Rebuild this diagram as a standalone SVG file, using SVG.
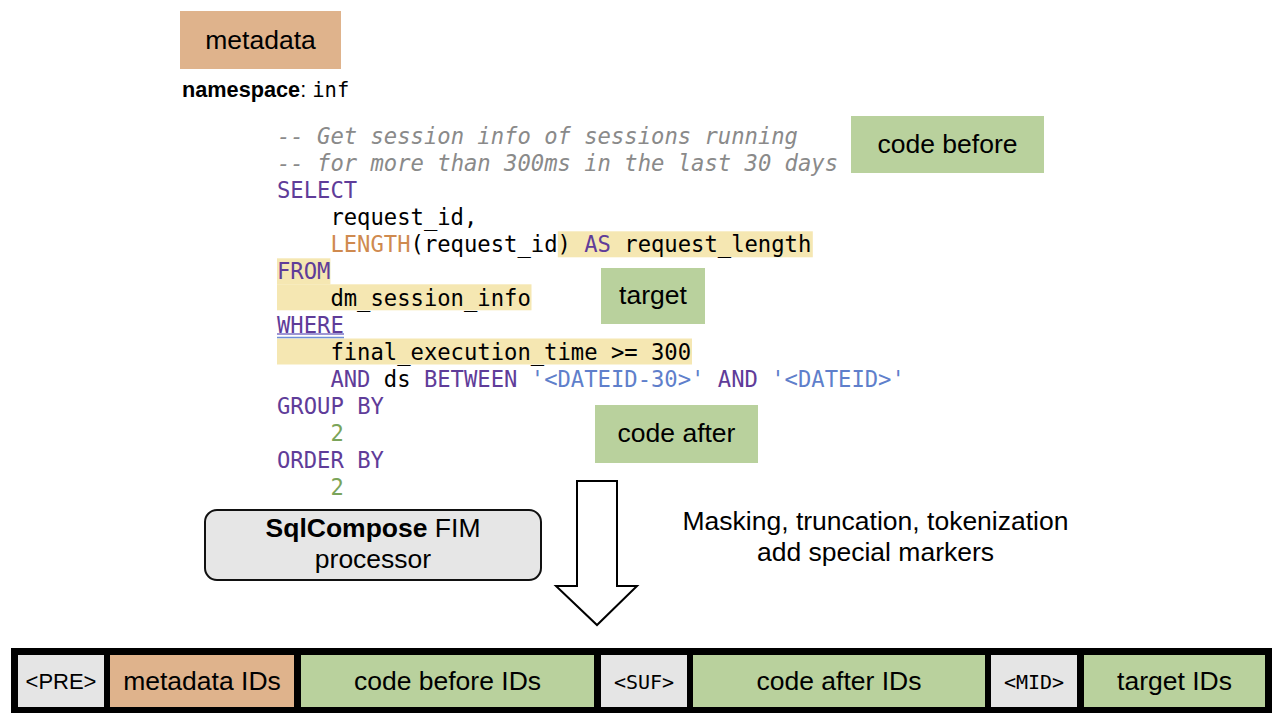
<svg xmlns="http://www.w3.org/2000/svg" width="1279" height="723" viewBox="0 0 1279 723">
<style>
.sans{font-family:"Liberation Sans",Arial,sans-serif;font-size:26.5px;fill:#000}
.lbl{text-anchor:middle}
.mono{font-family:"DejaVu Sans Mono","Liberation Mono",monospace;font-size:22.2px;fill:#000}
.cm{fill:#8a8a8a;font-style:italic}
.kw{fill:#5f3c99}
.fn{fill:#cf8a4f}
.st{fill:#5f7fcb}
.nu{fill:#7aa45a}
.hl{fill:#f5e7b2}
.green{fill:#b9d19d}
.tan{fill:#dfb38c}
.grey{fill:#e5e5e5}
</style>
<rect width="1279" height="723" fill="#fff"/>

<g id="metadata">
<rect class="tan" x="180" y="11" width="161" height="58"/>
<text class="sans lbl" x="260.5" y="49">metadata</text>
</g>

<g id="namespace">
<text x="182" y="97"><tspan font-family="Liberation Sans, Arial, sans-serif" font-weight="bold" font-size="21.7px">namespace</tspan><tspan font-family="Liberation Sans, Arial, sans-serif" font-size="21.7px">: </tspan><tspan font-family="DejaVu Sans Mono, Liberation Mono, monospace" font-size="20.5px">inf</tspan></text>
</g>

<g id="code">
<rect class="hl" x="557.8" y="231.3" width="255" height="26"/>
<rect class="hl" x="277" y="258.3" width="53.4" height="26.2"/>
<rect class="hl" x="277" y="284.3" width="254.5" height="26"/>
<rect class="hl" x="277" y="338.5" width="415" height="26"/>
<g xml:space="preserve">
<text class="mono cm" x="277" y="144">-- Get session info of sessions running</text>
<text class="mono cm" x="277" y="171">-- for more than 300ms in the last 30 days</text>
<text class="mono kw" x="277" y="198">SELECT</text>
<text class="mono" x="330.4" y="225">request_id,</text>
<text class="mono" x="330.4" y="252"><tspan class="fn">LENGTH</tspan>(request_id) <tspan class="kw">AS</tspan> request_length</text>
<text class="mono kw" x="277" y="279">FROM</text>
<text class="mono" x="330.4" y="306">dm_session_info</text>
<text class="mono kw" x="277" y="333">WHERE</text>
<text class="mono" x="330.4" y="360">final_execution_time &gt;= 300</text>
<text class="mono" x="330.4" y="387"><tspan class="kw">AND</tspan> ds <tspan class="kw">BETWEEN</tspan> <tspan class="st">'&lt;DATEID-30&gt;'</tspan> <tspan class="kw">AND</tspan> <tspan class="st">'&lt;DATEID&gt;'</tspan></text>
<text class="mono kw" x="277" y="414">GROUP BY</text>
<text class="mono nu" x="330.4" y="441">2</text>
<text class="mono kw" x="277" y="468">ORDER BY</text>
<text class="mono nu" x="330.4" y="495">2</text>
</g>
<line x1="277" y1="334" x2="344" y2="334" stroke="#7d72c4" stroke-width="1.4"/>
<line x1="277" y1="337.5" x2="344" y2="337.5" stroke="#6f8ed8" stroke-width="1.4"/>
</g>

<g id="code-before">
<rect class="green" x="851" y="116" width="193" height="57"/>
<text class="sans lbl" x="947.5" y="153">code before</text>
</g>

<g id="target">
<rect class="green" x="601" y="268" width="104" height="56"/>
<text class="sans lbl" x="653" y="304">target</text>
</g>

<g id="code-after">
<rect class="green" x="595" y="405" width="163" height="58"/>
<text class="sans lbl" x="676.5" y="442">code after</text>
</g>

<g id="processor">
<rect x="205" y="510" width="336" height="70" rx="12" ry="12" fill="#e6e6e6" stroke="#111" stroke-width="2"/>
<text class="sans lbl" x="373" y="537"><tspan font-weight="bold">SqlCompose</tspan> FIM</text>
<text class="sans lbl" x="373" y="568">processor</text>
</g>

<g id="steps">
<text class="sans lbl" x="875.5" y="530">Masking, truncation, tokenization</text>
<text class="sans lbl" x="875.5" y="561">add special markers</text>
</g>

<g id="connectors">
<path d="M577,481 H617 V586 H637 L597,625 L556,586 H577 Z" fill="#fff" stroke="#000" stroke-width="2" stroke-linejoin="miter"/>
</g>

<g id="sequence">
<rect x="11" y="648" width="1261" height="65" fill="#000"/>
<g id="seq-pre">
<rect class="grey" x="18" y="655" width="86" height="52"/>
<text class="sans lbl" x="61" y="689" style="font-size:22px">&lt;PRE&gt;</text>
</g>
<g id="seq-metadata">
<rect class="tan" x="110" y="655" width="184" height="52"/>
<text class="sans lbl" x="202" y="690">metadata IDs</text>
</g>
<g id="seq-code-before">
<rect class="green" x="301" y="655" width="293" height="52"/>
<text class="sans lbl" x="447.5" y="690">code before IDs</text>
</g>
<g id="seq-suf">
<rect class="grey" x="601" y="655" width="86" height="52"/>
<text class="mono lbl" x="644" y="689" style="font-size:20px">&lt;SUF&gt;</text>
</g>
<g id="seq-code-after">
<rect class="green" x="693" y="655" width="292" height="52"/>
<text class="sans lbl" x="839" y="690">code after IDs</text>
</g>
<g id="seq-mid">
<rect class="grey" x="991" y="655" width="86" height="52"/>
<text class="mono lbl" x="1034" y="689" style="font-size:20px">&lt;MID&gt;</text>
</g>
<g id="seq-target">
<rect class="green" x="1084" y="655" width="181" height="52"/>
<text class="sans lbl" x="1174.5" y="690">target IDs</text>
</g>
</g>
</svg>
